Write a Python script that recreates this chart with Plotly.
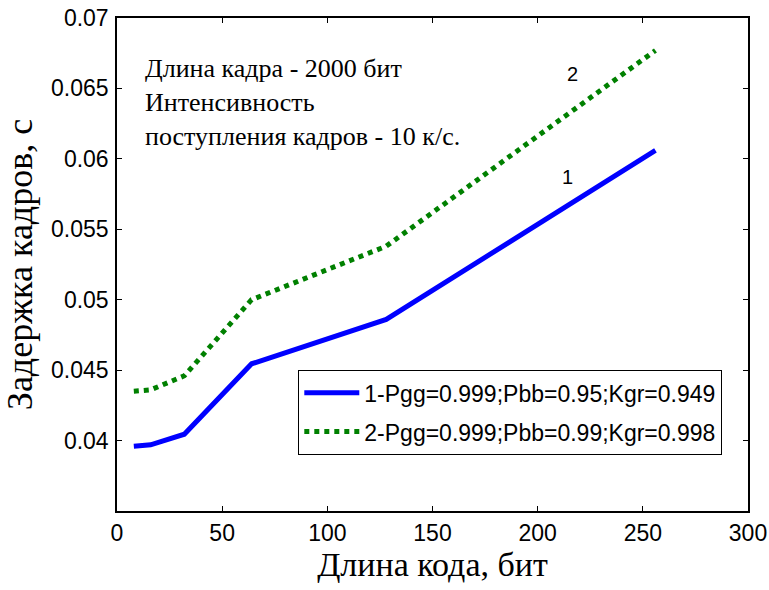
import plotly.graph_objects as go

code_len = [8, 16, 32, 64, 128, 256]
delay_1 = [0.0396, 0.0397, 0.04045, 0.04545, 0.0486, 0.0606]
delay_2 = [0.0435, 0.0436, 0.0446, 0.0500, 0.0538, 0.0677]
name_1 = "1-Pgg=0.999;Pbb=0.95;Kgr=0.949"
name_2 = "2-Pgg=0.999;Pbb=0.99;Kgr=0.998"
x_ticks = [0, 50, 100, 150, 200, 250, 300]
y_ticks = [0.04, 0.045, 0.05, 0.055, 0.06, 0.065, 0.07]
y_tick_text = ["0.04", "0.045", "0.05", "0.055", "0.06", "0.065", "0.07"]

SANS = "Liberation Sans, Arial, sans-serif"
SERIF = "Liberation Serif, Times New Roman, serif"

fig = go.Figure()
fig.add_trace(go.Scatter(x=code_len, y=delay_1, mode="lines", name=name_1,
                         legendgroup="a",
                         line=dict(color="#0000FF", width=5)))
fig.add_trace(go.Scatter(x=code_len, y=delay_2, mode="lines", name=name_2,
                         legendgroup="b",
                         line=dict(color="#008000", width=5, dash="5px,5px")))

fig.add_annotation(x=0.041, y=0.931, xref="paper", yref="paper",
                   xanchor="left", yanchor="top", align="left", showarrow=False,
                   text="Длина кадра - 2000 бит<br>Интенсивность<br>поступления кадров - 10 к/с.",
                   font=dict(family=SERIF, size=26, color="black"))
fig.add_annotation(x=216.4, y=0.066, text="2", showarrow=False,
                   font=dict(family=SANS, size=20, color="black"))
fig.add_annotation(x=214, y=0.0587, text="1", showarrow=False,
                   font=dict(family=SANS, size=20, color="black"))

axis_common = dict(showgrid=False, zeroline=False, showline=True, linecolor="black",
                   linewidth=1.5, mirror="ticks", ticks="inside", ticklen=5,
                   tickcolor="black", automargin=False,
                   tickfont=dict(family=SANS, size=23, color="black"))

fig.update_xaxes(range=[0, 300], tickvals=x_ticks, ticklabelstandoff=1,
                 title=dict(text="Длина кода, бит", standoff=4,
                            font=dict(family=SERIF, size=34, color="black")),
                 **axis_common)
fig.update_yaxes(range=[0.035, 0.07], tickvals=y_ticks, ticktext=y_tick_text,
                 ticklabelstandoff=2,
                 title=dict(text="Задержка кадров, с", standoff=10,
                            font=dict(family=SERIF, size=36, color="black")),
                 **axis_common)

fig.update_layout(
    width=769, height=590,
    margin=dict(l=117, r=21, t=18, b=79),
    paper_bgcolor="white", plot_bgcolor="white",
    showlegend=True,
    legend=dict(x=0.287, y=0.286, xanchor="left", yanchor="top",
                bgcolor="white", bordercolor="black", borderwidth=1.2,
                font=dict(family=SANS, size=23, color="black"),
                itemwidth=55, tracegroupgap=6),
)

fig.write_html("out.html")
